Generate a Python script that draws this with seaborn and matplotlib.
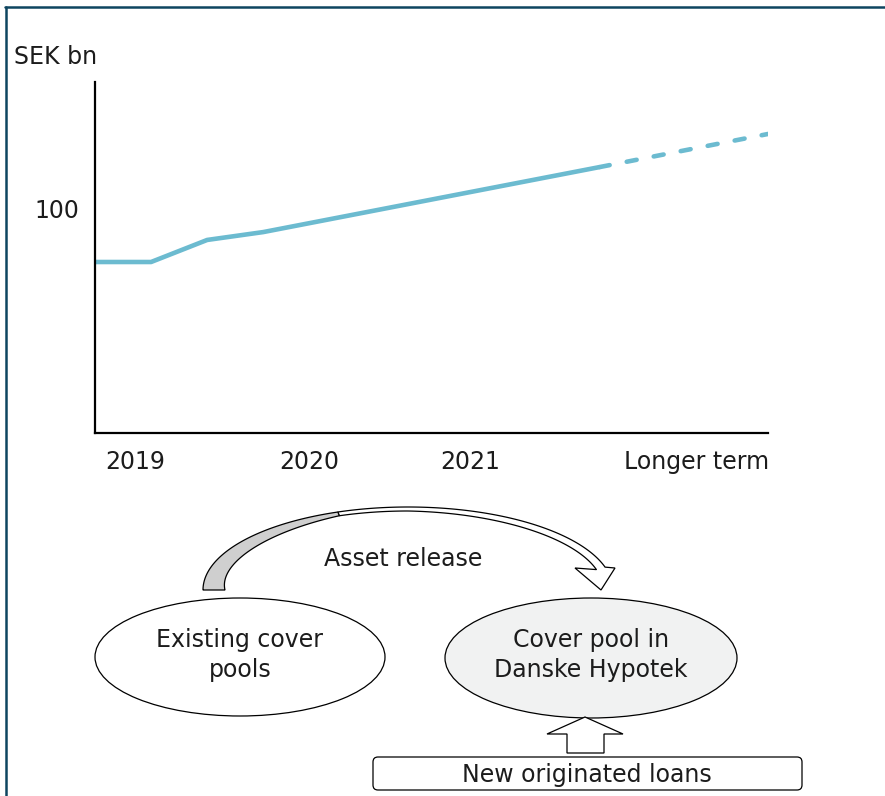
import numpy as np
import pandas as pd
import matplotlib.pyplot as plt
import seaborn as sns
from matplotlib.patches import Ellipse, Polygon, FancyBboxPatch
from matplotlib.lines import Line2D

# line data (quarters from start of 2019, SEK bn)
q_solid = [0, 1, 2, 3, 9]
v_solid = [76, 76, 85.8, 89.3, 118.2]
q_dashed = [9, 12]
v_dashed = [118.2, 132.9]

tick_pos = [0.71, 3.82, 6.69, 10.72]
tick_labels = ["2019", "2020", "2021", "Longer term"]

sns.set_theme(style="white")
plt.rcParams['font.family'] = ['DejaVu Sans']

LINE_C = '#6cbbd0'
FS = 17
TXT = '#1c1c1c'

fig = plt.figure(figsize=(8.85, 7.96), dpi=100)
ax = fig.add_axes([95/885, 1 - 433/796, 673/885, 351/796])

solid = pd.DataFrame({'q': q_solid, 'v': v_solid})
dashed = pd.DataFrame({'q': q_dashed, 'v': v_dashed})
sns.lineplot(data=solid, x='q', y='v', ax=ax, color=LINE_C, lw=3.3,
             solid_capstyle='butt')
sns.lineplot(data=dashed, x='q', y='v', ax=ax, color=LINE_C, lw=3.3)
ln = ax.lines[-1]
ln.set_dashes((2.2, 3.8))
ln.set_dash_capstyle('round')

ax.set_xlim(0, 12)
ax.set_ylim(0, 156)
ax.set_xticks(tick_pos)
ax.set_xticklabels(tick_labels, fontsize=FS, color=TXT)
ax.set_yticks([100])
ax.set_yticklabels(["100"], fontsize=FS, color=TXT)
ax.tick_params(axis='both', length=0)
ax.tick_params(axis='x', pad=12)
ax.tick_params(axis='y', pad=11)
ax.set_xlabel('')
ax.set_ylabel('')
sns.despine(ax=ax)
for s in ['left', 'bottom']:
    ax.spines[s].set_color('black')
    ax.spines[s].set_linewidth(1.6)

fig.text(14/885, 1 - 57/796, "SEK bn", fontsize=FS, va='center', ha='left',
         color=TXT)

# diagram below the chart, drawn in pixel coords
d = fig.add_axes([0, 0, 1, 1], zorder=-1)
d.set_xlim(0, 885)
d.set_ylim(796, 0)
d.axis('off')
d.patch.set_alpha(0)

d.add_patch(Ellipse((240, 657), 290, 118, fc='white', ec='black', lw=0.9))
d.add_patch(Ellipse((591, 658), 292, 120, fc='#f1f2f2', ec='black', lw=0.9))
d.text(240, 655, "Existing cover\npools", fontsize=FS, ha='center', va='center',
       linespacing=1.35, color=TXT)
d.text(591, 655, "Cover pool in\nDanske Hypotek", fontsize=FS, ha='center',
       va='center', linespacing=1.35, color=TXT)

# curved "asset release" arrow
cx, cy, a, b = 408, 590, 205, 83
def thick(t):
    return np.interp(t, [16, 90, 110, 180], [9, 4, 4, 22])

def outer(th):
    r = np.radians(th)
    return np.column_stack([cx + a*np.cos(r), cy - b*np.sin(r)])

def inner(th):
    r = np.radians(th)
    dd = thick(th)
    return np.column_stack([cx + (a-dd)*np.cos(r), cy - (b-dd)*np.sin(r)])

th_w = np.linspace(110, 16, 120)
head = np.array([[615, 568], [601, 590], [575, 568]])
white = np.vstack([outer(th_w), head, inner(th_w[::-1])])
d.add_patch(Polygon(white, closed=True, fc='white', ec='black', lw=0.9))
th_g = np.linspace(180, 110, 120)
grey = np.vstack([outer(th_g), inner(th_g[::-1])])
d.add_patch(Polygon(grey, closed=True, fc='#cfcfcf', ec='black', lw=0.9))
d.text(403, 559, "Asset release", fontsize=FS, ha='center', va='center',
       color=TXT)

# up arrow and new loans box
up = [(567, 753), (567, 734), (547, 734), (585, 717), (623, 734), (604, 734), (604, 753)]
d.add_patch(Polygon(up, closed=True, fc='white', ec='black', lw=0.9))
d.add_patch(FancyBboxPatch((373, 757), 429, 33,
                           boxstyle="round,pad=0,rounding_size=5",
                           fc='white', ec='black', lw=0.9))
d.text(587, 775, "New originated loans", fontsize=FS, ha='center', va='center',
       color=TXT)

# frame lines top and left
fig.add_artist(Line2D([5/885, 1], [1 - 6.5/796, 1 - 6.5/796],
                      transform=fig.transFigure, color='#0e4560', lw=1.8))
fig.add_artist(Line2D([5.5/885, 5.5/885], [0, 1 - 6.5/796],
                      transform=fig.transFigure, color='#0e4560', lw=1.8))

fig.savefig('out.png', dpi=100)
